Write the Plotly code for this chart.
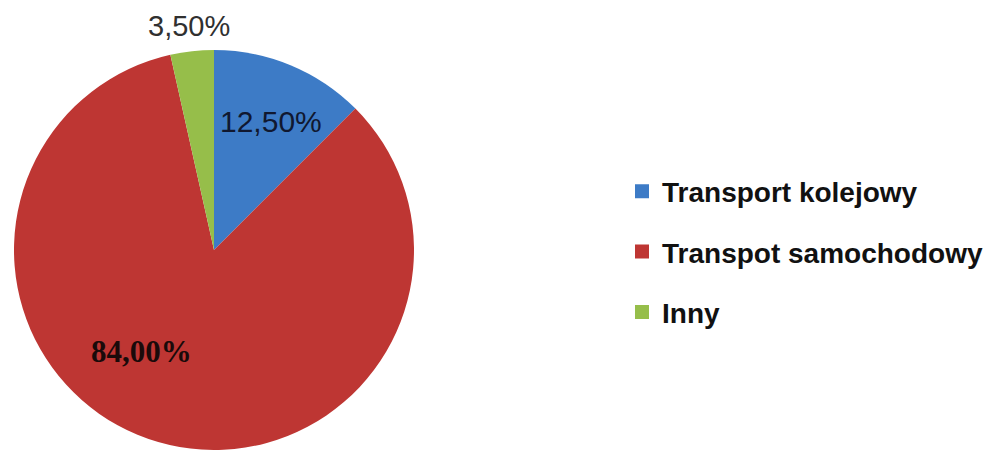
import plotly.graph_objects as go

labels = ["Transport kolejowy", "Transpot samochodowy", "Inny"]
values = [12.5, 84.0, 3.5]
colors = ["#3D7BC6", "#BE3633", "#96BE4A"]

W, H = 994, 450
cx, cy, r = 214, 250, 200

def fmt(v):
    return f"{v:.2f}".replace(".", ",") + "%"

fig = go.Figure()
fig.add_trace(go.Pie(
    labels=labels, values=values, sort=False, direction="clockwise", rotation=0,
    marker=dict(colors=colors, line=dict(width=0)),
    textinfo="none", hoverinfo="label+percent", showlegend=False,
    domain=dict(x=[(cx - r) / W, (cx + r) / W],
                y=[max(0, (H - cy - r) / H), min(1, (H - cy + r) / H)]),
))

# legend entries (one group per category for row spacing)
for lab, col in zip(labels, colors):
    fig.add_trace(go.Scatter(
        x=[None], y=[None], mode="markers", name=lab, legendgroup=lab,
        marker=dict(symbol="square", size=14, color=col),
        showlegend=True,
    ))

# percentage labels
label_pos = [(271, 121), (141, 351), (189, 26)]
label_fonts = [
    dict(family="Liberation Sans", size=30, color="#101830"),
    dict(family="Liberation Serif", size=31, color="#1A0A0A", weight="bold"),
    dict(family="Liberation Sans", size=29, color="#303030"),
]
for v, (px, py), f in zip(values, label_pos, label_fonts):
    fig.add_annotation(x=px / W, y=1 - py / H, xref="paper", yref="paper",
                       text=fmt(v), showarrow=False, font=f,
                       xanchor="center", yanchor="middle")

fig.update_layout(
    width=W, height=H, margin=dict(l=0, r=0, t=0, b=0),
    paper_bgcolor="white", plot_bgcolor="white",
    xaxis=dict(visible=False), yaxis=dict(visible=False),
    legend=dict(x=622 / W, y=1 - 252 / H, xanchor="left", yanchor="middle",
                font=dict(family="Liberation Sans", size=28, color="#111111", weight="bold"),
                tracegroupgap=21, bgcolor="rgba(0,0,0,0)"),
)
fig.write_html("out.html", config={"displayModeBar": False},
               post_script="document.body.style.margin='0';")
